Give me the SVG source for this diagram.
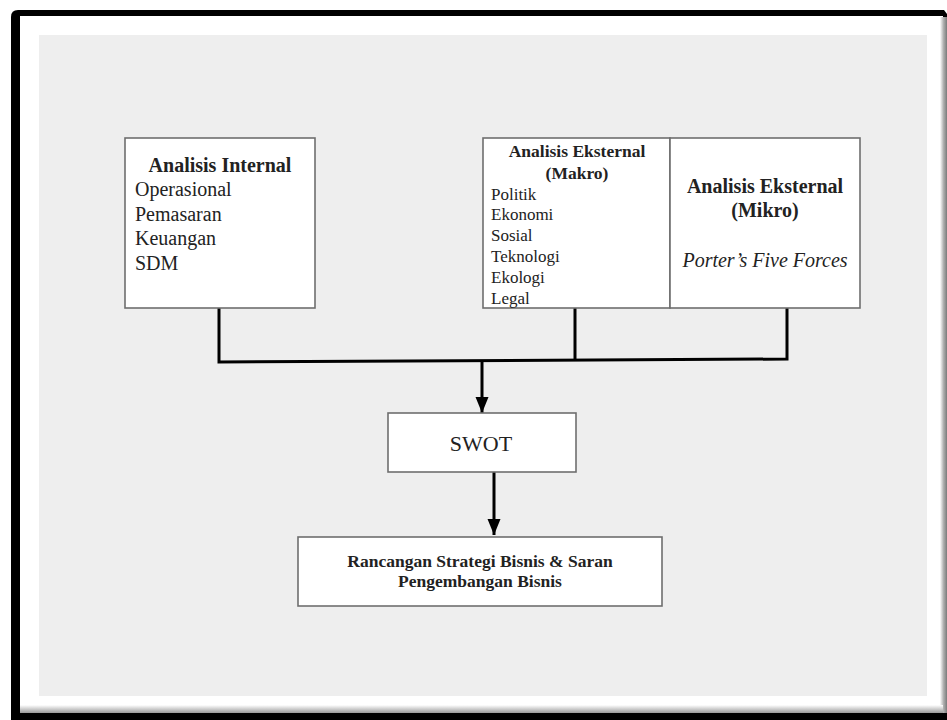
<svg xmlns="http://www.w3.org/2000/svg" width="947" height="720" viewBox="0 0 947 720">
<defs>
<marker id="arr" markerUnits="userSpaceOnUse" markerWidth="16" markerHeight="14" refX="16" refY="7" orient="auto" viewBox="0 0 16 14">
<path d="M0,0.5 L16,7 L0,13.5 Z" fill="#000"/>
</marker>
<linearGradient id="rshade" x1="0" y1="0" x2="1" y2="0">
<stop offset="0" stop-color="#ffffff"/><stop offset="0.5" stop-color="#b0b0b0"/><stop offset="1" stop-color="#7a7a7a"/>
</linearGradient>
<linearGradient id="bshade" x1="0" y1="0" x2="0" y2="1">
<stop offset="0" stop-color="#ffffff"/><stop offset="1" stop-color="#9a9a9a"/>
</linearGradient>
</defs>
<style>
.box{fill:#fff;stroke:#6e6e6e;stroke-width:1.6}
.t{font-family:"Liberation Serif","Times New Roman",serif;fill:#222}
.b{font-weight:bold}
.c{text-anchor:middle}
.conn{fill:none;stroke:#000;stroke-width:3}
</style>
<rect x="0" y="0" width="947" height="720" fill="#fff"/>
<g id="frame">
<path d="M18,10 L944,10 L947,14 L947,720 L11,720 L11,17 Q11,10 18,10 Z" fill="#000"/>
<rect x="20" y="16" width="923" height="697" fill="#fff"/>
<rect x="940" y="17" width="7" height="696" fill="url(#rshade)"/>
<rect x="20" y="705" width="923" height="8" fill="url(#bshade)"/>
<rect x="39" y="35" width="888" height="661" fill="#eeeeee"/>
</g>
<g id="connectors">
<polyline class="conn" points="219,308 219,362 787,359 787,308"/>
<line class="conn" x1="575" y1="308" x2="575" y2="360"/>
<line class="conn" x1="482" y1="362" x2="482" y2="413" marker-end="url(#arr)"/>
<line class="conn" x1="494" y1="472" x2="494" y2="535" marker-end="url(#arr)"/>
</g>
<g id="internal">
<rect class="box" x="125" y="138" width="190" height="170"/>
<text class="t b c" x="220" y="172" font-size="20">Analisis Internal</text>
<text class="t" x="135" y="196" font-size="20">Operasional</text>
<text class="t" x="135" y="220.5" font-size="20">Pemasaran</text>
<text class="t" x="135" y="245" font-size="20">Keuangan</text>
<text class="t" x="135" y="269.5" font-size="20">SDM</text>
</g>
<g id="makro">
<rect class="box" x="483" y="138" width="187" height="170"/>
<text class="t b c" x="577" y="157" font-size="17.5">Analisis Eksternal</text>
<text class="t b c" x="577" y="179" font-size="17.5">(Makro)</text>
<text class="t" x="491" y="199.5" font-size="17">Politik</text>
<text class="t" x="491" y="220.3" font-size="17">Ekonomi</text>
<text class="t" x="491" y="241.1" font-size="17">Sosial</text>
<text class="t" x="491" y="261.9" font-size="17">Teknologi</text>
<text class="t" x="491" y="282.7" font-size="17">Ekologi</text>
<text class="t" x="491" y="303.5" font-size="17">Legal</text>
</g>
<g id="mikro">
<rect class="box" x="670" y="138" width="190" height="170"/>
<text class="t b c" x="765" y="193" font-size="20">Analisis Eksternal</text>
<text class="t b c" x="765" y="217" font-size="20">(Mikro)</text>
<text class="t c" x="765" y="267" font-size="20" font-style="italic">Porter’s Five Forces</text>
</g>
<g id="swot">
<rect class="box" x="388" y="413" width="188" height="59"/>
<text class="t c" x="481" y="451" font-size="22">SWOT</text>
</g>
<g id="rancangan">
<rect class="box" x="298" y="537" width="364" height="69"/>
<text class="t b c" x="480" y="567" font-size="17.5">Rancangan Strategi Bisnis &amp; Saran</text>
<text class="t b c" x="480" y="587" font-size="17.5">Pengembangan Bisnis</text>
</g>
</svg>
